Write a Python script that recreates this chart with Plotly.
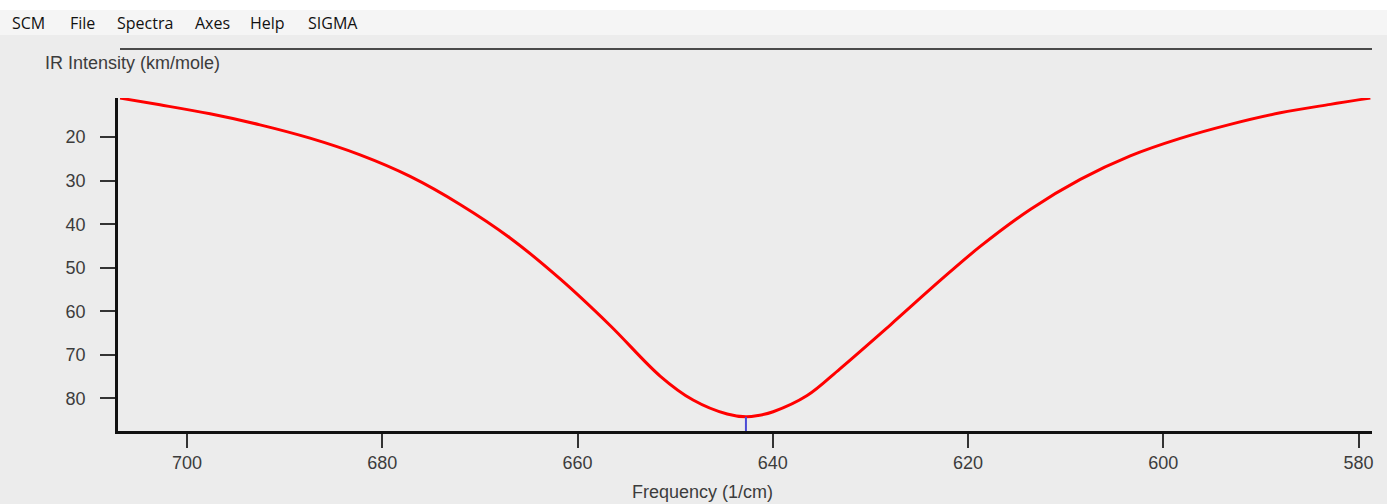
import plotly.graph_objects as go

# IR spectrum (broadened band) – frequency in 1/cm, intensity in km/mole
freq = [706.86, 702.77, 697.64, 692.52, 687.40, 682.27, 677.15, 672.03, 666.91, 661.78,
        656.66, 651.54, 648.16, 644.67, 642.75, 641.50, 639.96, 636.48, 633.09,
        627.97, 622.85, 618.75, 613.63, 608.50, 603.38, 598.26, 593.14, 588.01, 582.89,
        578.79]
intensity = [11.03, 12.57, 14.64, 17.17, 20.23, 24.07, 29.01, 35.45, 43.15, 52.57,
             63.26, 74.87, 80.39, 83.61, 84.25, 83.95, 83.08, 79.36, 73.15,
             63.15, 52.92, 45.10, 36.60, 29.70, 24.30, 20.28, 17.06, 14.41, 12.46,
             11.03]

# calculated vibrational mode (stick)
mode_freq = [642.75]
mode_intensity = [84.25]

x_ticks = [700, 680, 660, 640, 620, 600, 580]
y_ticks = [20, 30, 40, 50, 60, 70, 80]
x_range = [707.07, 578.62]
y_range = [87.5, 11.0]

menu_items = ["SCM", "File", "Spectra", "Axes", "Help", "SIGMA"]
menu_left = [10, 68, 115, 193, 248, 306]

W, H = 1387, 504
L, R, T, B = 118, 15, 98, 73
PW, PH = W - L - R, H - T - B


def px(xp):
    return (xp - L) / PW


def py(yp):
    return (H - B - yp) / PH


TEXT = "#3c3c3c"
FONT = "Liberation Sans, Arial, sans-serif"

fig = go.Figure()

fig.add_trace(go.Scatter(
    x=freq, y=intensity, mode="lines",
    line=dict(color="#ff0000", width=3, shape="spline", smoothing=1.0),
    hoverinfo="x+y", showlegend=False,
))

for f, v in zip(mode_freq, mode_intensity):
    fig.add_trace(go.Scatter(
        x=[f, f], y=[y_range[0], v], mode="lines",
        line=dict(color="#4b4bd6", width=2), showlegend=False,
    ))

fig.update_xaxes(
    range=x_range, tickvals=x_ticks, ticktext=[str(t) for t in x_ticks],
    showgrid=False, zeroline=False,
    showline=True, linecolor="#111111", linewidth=2.5,
    ticks="outside", ticklen=14, tickwidth=1.5, tickcolor="#333333",
    tickfont=dict(family=FONT, size=18, color=TEXT),
)
fig.update_yaxes(
    range=y_range, tickvals=y_ticks, ticktext=[str(t) for t in y_ticks],
    showgrid=False, zeroline=False,
    showline=True, linecolor="#111111", linewidth=2.5,
    ticks="outside", ticklen=15, tickwidth=1.5, tickcolor="#333333",
    tickfont=dict(family=FONT, size=18, color=TEXT),
    ticklabelstandoff=11,
)

shapes = [
    # window chrome: white strip and menu bar
    dict(type="rect", xref="paper", yref="paper", x0=px(0), x1=px(W),
         y0=py(0), y1=py(10), fillcolor="#ffffff", line_width=0, layer="below"),
    dict(type="rect", xref="paper", yref="paper", x0=px(0), x1=px(W),
         y0=py(10), y1=py(35), fillcolor="#f5f5f5", line_width=0, layer="below"),
    # top rule of the chart panel
    dict(type="line", xref="paper", yref="paper", x0=px(120), x1=px(1372),
         y0=py(49), y1=py(49), line=dict(color="#4a4a4a", width=2)),
]

annotations = []
for label, left in zip(menu_items, menu_left):
    annotations.append(dict(
        text=label, xref="paper", yref="paper", x=px(left), y=py(23),
        xanchor="left", yanchor="middle", showarrow=False,
        font=dict(family="Open Sans, Noto Sans, sans-serif", size=16, color="#111111"),
    ))
annotations.append(dict(
    text="IR Intensity (km/mole)", xref="paper", yref="paper",
    x=px(43), y=py(63), xanchor="left", yanchor="middle", showarrow=False,
    font=dict(family=FONT, size=18, color=TEXT),
))
annotations.append(dict(
    text="Frequency (1/cm)", xref="paper", yref="paper",
    x=px(702), y=py(492), xanchor="center", yanchor="middle", showarrow=False,
    font=dict(family=FONT, size=18, color=TEXT),
))

fig.update_layout(
    width=W, height=H,
    margin=dict(l=L, r=R, t=T, b=B),
    paper_bgcolor="#ececec", plot_bgcolor="#ececec",
    shapes=shapes, annotations=annotations,
)

fig.write_html("out.html")
